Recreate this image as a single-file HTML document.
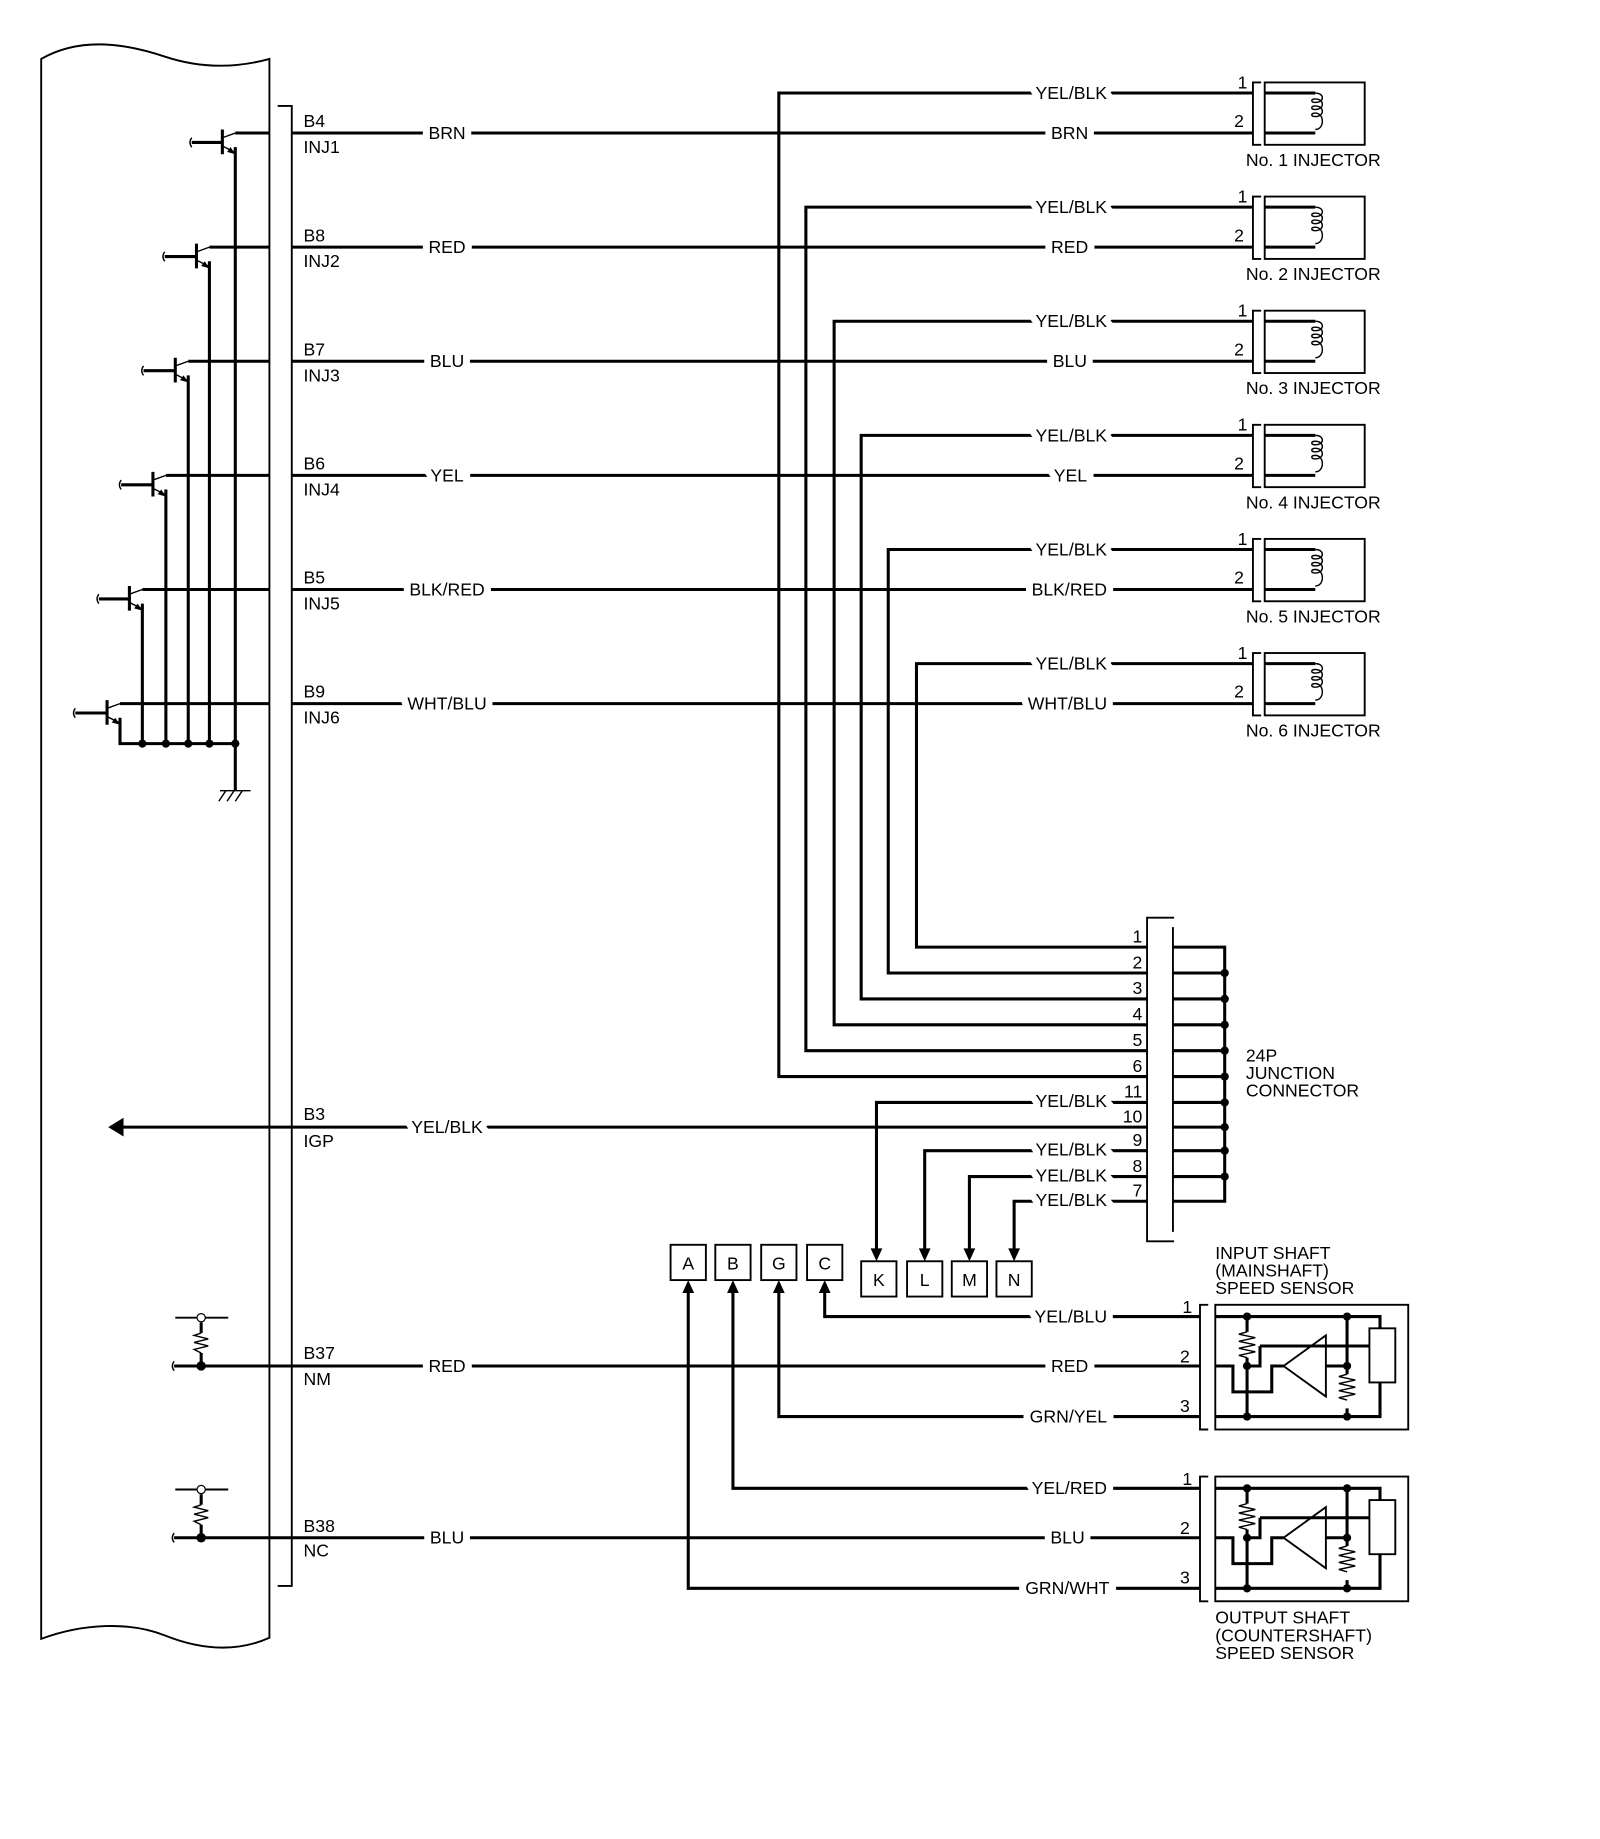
<!DOCTYPE html>
<html><head><meta charset="utf-8"><style>
html,body{margin:0;padding:0;background:#fff;}
svg{display:block;}
text{font-family:"Liberation Sans",Arial,sans-serif;font-size:15px;fill:#000;}
.h{paint-order:stroke;stroke:#fff;stroke-width:12px;}
.w{stroke:#000;stroke-width:2.6;fill:none;}
.t{stroke:#000;stroke-width:1.2;fill:none;}
.m{stroke:#000;stroke-width:1.6;fill:none;}
</style></head><body>
<svg width="1600" height="1839" viewBox="0 0 1360 1563" xmlns="http://www.w3.org/2000/svg">
<defs>
<g id="inj">
  <path class="m" d="M1072,-9 H1065 V44 H1072"/>
  <rect class="m" x="1075" y="-9" width="85" height="53"/>
  <path class="w" d="M1075,0 H1118 M1075,34 H1118"/>
  <path class="t" d="M1118,0 c8,0 8,8 0,8 c-4,0 -4,-3 0,-3 c8,0 8,9 0,9 c-4,0 -4,-3 0,-3 c8,0 8,9 0,9 c-4,0 -4,-3 0,-3 c8,0 8,14 0,14"/>
</g>
<g id="sen">
  <path class="m" d="M-6,0 H-13 V106 H-6"/>
  <rect class="m" x="0" y="0" width="164" height="106"/>
  <path class="w" d="M0,10 H140 V20 M140,66 V95 H0 M0,52 H15 V74 H48 V52 H58 M27,10 V23 M27,45 V95 M112,10 V59 M112,88 V95 M38,35 H94 M94,35 H131 M94,52 H112 M27,52 H38 V35"/>
  <rect class="m" x="131" y="20" width="22" height="46"/>
  <path class="m" d="M58,52 L94,26 V78 Z"/>
  <path class="t" d="M27,23 l-7,2 l14,3 l-14,3 l14,3 l-14,3 l14,3 l-14,3 l7,2 M112,59 l-7,2 l14,3 l-14,3 l14,3 l-14,3 l14,3 l-14,3 l7,2"/>
  <circle cx="27" cy="10" r="3.5"/><circle cx="112" cy="10" r="3.5"/>
  <circle cx="27" cy="52" r="3.5"/><circle cx="112" cy="52" r="3.5"/>
  <circle cx="27" cy="95" r="3.5"/><circle cx="112" cy="95" r="3.5"/>
</g>
</defs>

<!-- ECM outline -->
<path class="m" d="M35,50 C70,30 110,38 140,48 C170,58 200,58 229,50 V1392 C200,1405 170,1402 140,1390 C110,1378 70,1380 35,1393 Z"/>
<path class="m" d="M236,90 H248 V1348 H236"/>

<!-- transistors -->
<g>
<path class="w" d="M200,113 H229 M200,125 V632 M163,121 H189 M189,110 V131"/>
<path class="t" d="M189,117 L200,113 M189,124 L199,129"/><path d="M200,131 l-7,-2 l3,-4z"/>
<path class="w" d="M178,210 H229 M178,222 V632 M140,218 H167 M167,207 V228"/>
<path class="t" d="M167,214 L178,210 M167,221 L177,226"/><path d="M178,228 l-7,-2 l3,-4z"/>
<path class="w" d="M160,307 H229 M160,319 V632 M122,315 H149 M149,304 V325"/>
<path class="t" d="M149,311 L160,307 M149,318 L159,323"/><path d="M160,325 l-7,-2 l3,-4z"/>
<path class="w" d="M141,404 H229 M141,416 V632 M103,412 H130 M130,401 V422"/>
<path class="t" d="M130,408 L141,404 M130,415 L140,420"/><path d="M141,422 l-7,-2 l3,-4z"/>
<path class="w" d="M121,501 H229 M121,513 V632 M84,509 H110 M110,498 V519"/>
<path class="t" d="M110,505 L121,501 M110,512 L120,517"/><path d="M121,519 l-7,-2 l3,-4z"/>
<path class="w" d="M102,598 H229 M102,610 V632 H200 V672 M64,606 H91 M91,595 V616"/>
<path class="t" d="M91,602 L102,598 M91,609 L101,614"/><path d="M102,616 l-7,-2 l3,-4z"/>
<circle cx="121" cy="632" r="3.5"/><circle cx="141" cy="632" r="3.5"/><circle cx="160" cy="632" r="3.5"/><circle cx="178" cy="632" r="3.5"/><circle cx="200" cy="632" r="3.5"/>
<path class="t" d="M187,672 H213 M192,672 l-6,9 M199,672 l-6,9 M206,672 l-6,9"/>
<path class="t" d="M163,117 q-3,4 0,8 M140,214 q-3,4 0,8 M122,311 q-3,4 0,8 M103,408 q-3,4 0,8 M84,505 q-3,4 0,8 M64,602 q-3,4 0,8"/>
</g>

<!-- pin labels ECM -->
<g>
<text x="258" y="108">B4</text><text x="258" y="130">INJ1</text>
<text x="258" y="205">B8</text><text x="258" y="227">INJ2</text>
<text x="258" y="302">B7</text><text x="258" y="324">INJ3</text>
<text x="258" y="399">B6</text><text x="258" y="421">INJ4</text>
<text x="258" y="496">B5</text><text x="258" y="518">INJ5</text>
<text x="258" y="593">B9</text><text x="258" y="615">INJ6</text>
<text x="258" y="952">B3</text><text x="258" y="975">IGP</text>
<text x="258" y="1155">B37</text><text x="258" y="1177">NM</text>
<text x="258" y="1302">B38</text><text x="258" y="1323">NC</text>
</g>

<!-- injector wires -->
<path class="w" d="M248,113 H1065 M248,210 H1065 M248,307 H1065 M248,404 H1065 M248,501 H1065 M248,598 H1065"/>
<path class="w" d="M1065,79 H662 V915 H975 M1065,176 H685 V893 H975 M1065,273 H709 V871 H975 M1065,370 H732 V849 H975 M1065,467 H755 V827 H975 M1065,564 H779 V805 H975"/>
<use href="#inj" y="79"/><use href="#inj" y="176"/><use href="#inj" y="273"/><use href="#inj" y="370"/><use href="#inj" y="467"/><use href="#inj" y="564"/>
<g>
<text x="1052" y="75">1</text><text x="1049" y="108">2</text><text x="1059" y="141">No. 1 INJECTOR</text>
<text x="1052" y="172">1</text><text x="1049" y="205">2</text><text x="1059" y="238">No. 2 INJECTOR</text>
<text x="1052" y="269">1</text><text x="1049" y="302">2</text><text x="1059" y="335">No. 3 INJECTOR</text>
<text x="1052" y="366">1</text><text x="1049" y="399">2</text><text x="1059" y="432">No. 4 INJECTOR</text>
<text x="1052" y="463">1</text><text x="1049" y="496">2</text><text x="1059" y="529">No. 5 INJECTOR</text>
<text x="1052" y="560">1</text><text x="1049" y="593">2</text><text x="1059" y="626">No. 6 INJECTOR</text>
</g>

<!-- other wires -->
<path class="w" d="M975,937 H745 V1062 M975,958 H105 M975,978 H786 V1062 M975,1000 H824 V1062 M975,1021 H862 V1062"/>
<path d="M92,958 L105,950 V966Z"/>
<path d="M745,1072 l-5,-11 h10z M786,1072 l-5,-11 h10z M824,1072 l-5,-11 h10z M862,1072 l-5,-11 h10z"/>
<path class="w" d="M1020,1119 H701 V1098 M1020,1161 H148 M1020,1204 H662 V1098 M1020,1265 H623 V1098 M1020,1307 H148 M1020,1350 H585 V1098"/>
<path d="M585,1088 l-5,11 h10z M623,1088 l-5,11 h10z M662,1088 l-5,11 h10z M701,1088 l-5,11 h10z"/>

<!-- boxes -->
<g class="m">
<rect x="570" y="1058" width="30" height="30"/><rect x="608" y="1058" width="30" height="30"/><rect x="647" y="1058" width="30" height="30"/><rect x="686" y="1058" width="30" height="30"/>
<rect x="732" y="1072" width="30" height="30"/><rect x="771" y="1072" width="30" height="30"/><rect x="809" y="1072" width="30" height="30"/><rect x="847" y="1072" width="30" height="30"/>
</g>
<g text-anchor="middle">
<text x="585" y="1079">A</text><text x="623" y="1079">B</text><text x="662" y="1079">G</text><text x="701" y="1079">C</text>
<text x="747" y="1093">K</text><text x="786" y="1093">L</text><text x="824" y="1093">M</text><text x="862" y="1093">N</text>
</g>

<!-- wire color labels -->
<g class="h" text-anchor="middle">
<text x="380" y="118">BRN</text><text x="380" y="215">RED</text><text x="380" y="312">BLU</text><text x="380" y="409">YEL</text><text x="380" y="506">BLK/RED</text><text x="380" y="603">WHT/BLU</text>
<text x="380" y="963">YEL/BLK</text><text x="380" y="1166">RED</text><text x="380" y="1312">BLU</text>
</g>
<g class="h" text-anchor="end">
<text x="941" y="84">YEL/BLK</text><text x="925" y="118">BRN</text>
<text x="941" y="181">YEL/BLK</text><text x="925" y="215">RED</text>
<text x="941" y="278">YEL/BLK</text><text x="924" y="312">BLU</text>
<text x="941" y="375">YEL/BLK</text><text x="924" y="409">YEL</text>
<text x="941" y="472">YEL/BLK</text><text x="941" y="506">BLK/RED</text>
<text x="941" y="569">YEL/BLK</text><text x="941" y="603">WHT/BLU</text>
<text x="941" y="941">YEL/BLK</text><text x="941" y="982">YEL/BLK</text><text x="941" y="1004">YEL/BLK</text><text x="941" y="1025">YEL/BLK</text>
<text x="941" y="1124">YEL/BLU</text><text x="925" y="1166">RED</text><text x="941" y="1209">GRN/YEL</text>
<text x="941" y="1270">YEL/RED</text><text x="922" y="1312">BLU</text><text x="943" y="1355">GRN/WHT</text>
</g>

<!-- junction connector -->
<path class="m" d="M998,780 H975 V1055 H998 M997,788 V1047"/>
<path class="w" d="M997,805 H1041 V1021 H997 M997,827 H1041 M997,849 H1041 M997,871 H1041 M997,893 H1041 M997,915 H1041 M997,937 H1041 M997,958 H1041 M997,978 H1041 M997,1000 H1041"/>
<g><circle cx="1041" cy="827" r="3.5"/><circle cx="1041" cy="849" r="3.5"/><circle cx="1041" cy="871" r="3.5"/><circle cx="1041" cy="893" r="3.5"/><circle cx="1041" cy="915" r="3.5"/><circle cx="1041" cy="937" r="3.5"/><circle cx="1041" cy="958" r="3.5"/><circle cx="1041" cy="978" r="3.5"/><circle cx="1041" cy="1000" r="3.5"/></g>
<g text-anchor="end">
<text x="971" y="801">1</text><text x="971" y="823">2</text><text x="971" y="845">3</text><text x="971" y="867">4</text><text x="971" y="889">5</text><text x="971" y="911">6</text><text x="971" y="933">11</text><text x="971" y="954">10</text><text x="971" y="974">9</text><text x="971" y="996">8</text><text x="971" y="1017">7</text>
</g>
<text x="1059" y="902">24P</text><text x="1059" y="917">JUNCTION</text><text x="1059" y="932">CONNECTOR</text>

<!-- sensors -->
<use href="#sen" x="1033" y="1109"/>
<use href="#sen" x="1033" y="1255"/>
<text x="1005" y="1116">1</text><text x="1003" y="1158">2</text><text x="1003" y="1200">3</text>
<text x="1005" y="1262">1</text><text x="1003" y="1304">2</text><text x="1003" y="1346">3</text>
<text x="1033" y="1070">INPUT SHAFT</text><text x="1033" y="1085">(MAINSHAFT)</text><text x="1033" y="1100">SPEED SENSOR</text>
<text x="1033" y="1380">OUTPUT SHAFT</text><text x="1033" y="1395">(COUNTERSHAFT)</text><text x="1033" y="1410">SPEED SENSOR</text>

<!-- NM / NC switches -->
<path class="w" d="M171,1124 V1133 M171,1150 V1161 M171,1270 V1279 M171,1296 V1307"/>
<path class="m" d="M149,1120 H194 M149,1266 H194"/>
<path class="t" d="M171,1133 l-6,2 l12,3 l-12,3 l12,3 l-12,3 l6,3 M171,1279 l-6,2 l12,3 l-12,3 l12,3 l-12,3 l6,3 M148,1157 q-3,4 0,8 M148,1303 q-3,4 0,8"/>
<circle cx="171" cy="1120" r="3.5" fill="#fff" stroke="#000" stroke-width="1"/>
<circle cx="171" cy="1266" r="3.5" fill="#fff" stroke="#000" stroke-width="1"/>
<circle cx="171" cy="1161" r="4"/><circle cx="171" cy="1307" r="4"/>
</svg>
</body></html>
